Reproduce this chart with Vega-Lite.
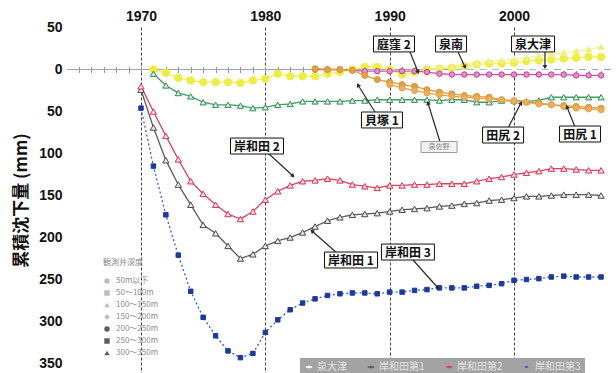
{
  "$schema": "https://vega.github.io/schema/vega-lite/v6.json",
  "width": 544,
  "height": 346,
  "autosize": {"type": "none"},
  "padding": {"left": 67, "top": 27, "right": 5, "bottom": 0},
  "background": "white",
  "config": {
    "view": {"fill": "#d5daee", "stroke": null},
    "font": "Liberation Sans"
  },
  "datasets": {
    "obs": [
      {"s": "泉大津", "yr": 1995, "v": -1}, {"s": "泉大津", "yr": 1996, "v": -1}, {"s": "泉大津", "yr": 1997, "v": -1},
      {"s": "泉大津", "yr": 1998, "v": -1}, {"s": "泉大津", "yr": 1999, "v": -1}, {"s": "泉大津", "yr": 2000, "v": -1},
      {"s": "泉大津", "yr": 2001, "v": -1}, {"s": "泉大津", "yr": 2002, "v": -1}, {"s": "泉大津", "yr": 2003, "v": -1},
      {"s": "泉大津", "yr": 2004, "v": -2}, {"s": "泉大津", "yr": 2005, "v": -2}, {"s": "泉大津", "yr": 2006, "v": -2},
      {"s": "泉大津", "yr": 2007, "v": -2},

      {"s": "岸和田第1", "yr": 1970, "v": 24}, {"s": "岸和田第1", "yr": 1971, "v": 69}, {"s": "岸和田第1", "yr": 1972, "v": 108},
      {"s": "岸和田第1", "yr": 1973, "v": 137}, {"s": "岸和田第1", "yr": 1974, "v": 161}, {"s": "岸和田第1", "yr": 1975, "v": 185},
      {"s": "岸和田第1", "yr": 1976, "v": 195}, {"s": "岸和田第1", "yr": 1977, "v": 210}, {"s": "岸和田第1", "yr": 1978, "v": 225},
      {"s": "岸和田第1", "yr": 1979, "v": 220}, {"s": "岸和田第1", "yr": 1980, "v": 210}, {"s": "岸和田第1", "yr": 1981, "v": 204},
      {"s": "岸和田第1", "yr": 1982, "v": 200}, {"s": "岸和田第1", "yr": 1983, "v": 194}, {"s": "岸和田第1", "yr": 1984, "v": 187},
      {"s": "岸和田第1", "yr": 1985, "v": 180}, {"s": "岸和田第1", "yr": 1986, "v": 176}, {"s": "岸和田第1", "yr": 1987, "v": 173},
      {"s": "岸和田第1", "yr": 1988, "v": 172}, {"s": "岸和田第1", "yr": 1989, "v": 171}, {"s": "岸和田第1", "yr": 1990, "v": 169},
      {"s": "岸和田第1", "yr": 1991, "v": 167}, {"s": "岸和田第1", "yr": 1992, "v": 166}, {"s": "岸和田第1", "yr": 1993, "v": 165},
      {"s": "岸和田第1", "yr": 1994, "v": 163}, {"s": "岸和田第1", "yr": 1995, "v": 162}, {"s": "岸和田第1", "yr": 1996, "v": 160},
      {"s": "岸和田第1", "yr": 1997, "v": 159}, {"s": "岸和田第1", "yr": 1998, "v": 156}, {"s": "岸和田第1", "yr": 1999, "v": 155},
      {"s": "岸和田第1", "yr": 2000, "v": 153}, {"s": "岸和田第1", "yr": 2001, "v": 151}, {"s": "岸和田第1", "yr": 2002, "v": 151},
      {"s": "岸和田第1", "yr": 2003, "v": 150}, {"s": "岸和田第1", "yr": 2004, "v": 149}, {"s": "岸和田第1", "yr": 2005, "v": 149},
      {"s": "岸和田第1", "yr": 2006, "v": 149}, {"s": "岸和田第1", "yr": 2007, "v": 150},

      {"s": "岸和田第2", "yr": 1970, "v": 20}, {"s": "岸和田第2", "yr": 1971, "v": 50}, {"s": "岸和田第2", "yr": 1972, "v": 79},
      {"s": "岸和田第2", "yr": 1973, "v": 107}, {"s": "岸和田第2", "yr": 1974, "v": 133}, {"s": "岸和田第2", "yr": 1975, "v": 148},
      {"s": "岸和田第2", "yr": 1976, "v": 161}, {"s": "岸和田第2", "yr": 1977, "v": 172}, {"s": "岸和田第2", "yr": 1978, "v": 178},
      {"s": "岸和田第2", "yr": 1979, "v": 169}, {"s": "岸和田第2", "yr": 1980, "v": 155}, {"s": "岸和田第2", "yr": 1981, "v": 145},
      {"s": "岸和田第2", "yr": 1982, "v": 138}, {"s": "岸和田第2", "yr": 1983, "v": 133}, {"s": "岸和田第2", "yr": 1984, "v": 132},
      {"s": "岸和田第2", "yr": 1985, "v": 130}, {"s": "岸和田第2", "yr": 1986, "v": 132}, {"s": "岸和田第2", "yr": 1987, "v": 137},
      {"s": "岸和田第2", "yr": 1988, "v": 139}, {"s": "岸和田第2", "yr": 1989, "v": 141}, {"s": "岸和田第2", "yr": 1990, "v": 138},
      {"s": "岸和田第2", "yr": 1991, "v": 138}, {"s": "岸和田第2", "yr": 1992, "v": 137}, {"s": "岸和田第2", "yr": 1993, "v": 137},
      {"s": "岸和田第2", "yr": 1994, "v": 136}, {"s": "岸和田第2", "yr": 1995, "v": 136}, {"s": "岸和田第2", "yr": 1996, "v": 136},
      {"s": "岸和田第2", "yr": 1997, "v": 133}, {"s": "岸和田第2", "yr": 1998, "v": 130}, {"s": "岸和田第2", "yr": 1999, "v": 128},
      {"s": "岸和田第2", "yr": 2000, "v": 125}, {"s": "岸和田第2", "yr": 2001, "v": 123}, {"s": "岸和田第2", "yr": 2002, "v": 121},
      {"s": "岸和田第2", "yr": 2003, "v": 118}, {"s": "岸和田第2", "yr": 2004, "v": 118}, {"s": "岸和田第2", "yr": 2005, "v": 119},
      {"s": "岸和田第2", "yr": 2006, "v": 120}, {"s": "岸和田第2", "yr": 2007, "v": 120},

      {"s": "岸和田第3", "yr": 1970, "v": 46}, {"s": "岸和田第3", "yr": 1971, "v": 115}, {"s": "岸和田第3", "yr": 1972, "v": 173},
      {"s": "岸和田第3", "yr": 1973, "v": 221}, {"s": "岸和田第3", "yr": 1974, "v": 264}, {"s": "岸和田第3", "yr": 1975, "v": 295},
      {"s": "岸和田第3", "yr": 1976, "v": 317}, {"s": "岸和田第3", "yr": 1977, "v": 335}, {"s": "岸和田第3", "yr": 1978, "v": 343},
      {"s": "岸和田第3", "yr": 1979, "v": 338}, {"s": "岸和田第3", "yr": 1980, "v": 313}, {"s": "岸和田第3", "yr": 1981, "v": 298},
      {"s": "岸和田第3", "yr": 1982, "v": 286}, {"s": "岸和田第3", "yr": 1983, "v": 278}, {"s": "岸和田第3", "yr": 1984, "v": 273},
      {"s": "岸和田第3", "yr": 1985, "v": 269}, {"s": "岸和田第3", "yr": 1986, "v": 267}, {"s": "岸和田第3", "yr": 1987, "v": 266},
      {"s": "岸和田第3", "yr": 1988, "v": 266}, {"s": "岸和田第3", "yr": 1989, "v": 267}, {"s": "岸和田第3", "yr": 1990, "v": 265},
      {"s": "岸和田第3", "yr": 1991, "v": 265}, {"s": "岸和田第3", "yr": 1992, "v": 263}, {"s": "岸和田第3", "yr": 1993, "v": 262},
      {"s": "岸和田第3", "yr": 1994, "v": 260}, {"s": "岸和田第3", "yr": 1995, "v": 260}, {"s": "岸和田第3", "yr": 1996, "v": 260},
      {"s": "岸和田第3", "yr": 1997, "v": 258}, {"s": "岸和田第3", "yr": 1998, "v": 257}, {"s": "岸和田第3", "yr": 1999, "v": 255},
      {"s": "岸和田第3", "yr": 2000, "v": 251}, {"s": "岸和田第3", "yr": 2001, "v": 250}, {"s": "岸和田第3", "yr": 2002, "v": 249},
      {"s": "岸和田第3", "yr": 2003, "v": 247}, {"s": "岸和田第3", "yr": 2004, "v": 246}, {"s": "岸和田第3", "yr": 2005, "v": 247},
      {"s": "岸和田第3", "yr": 2006, "v": 247}, {"s": "岸和田第3", "yr": 2007, "v": 247},

      {"s": "泉南", "yr": 1971, "v": 0}, {"s": "泉南", "yr": 1972, "v": 4}, {"s": "泉南", "yr": 1973, "v": 10},
      {"s": "泉南", "yr": 1974, "v": 13}, {"s": "泉南", "yr": 1975, "v": 15}, {"s": "泉南", "yr": 1976, "v": 15},
      {"s": "泉南", "yr": 1977, "v": 15}, {"s": "泉南", "yr": 1978, "v": 16}, {"s": "泉南", "yr": 1979, "v": 13},
      {"s": "泉南", "yr": 1980, "v": 11}, {"s": "泉南", "yr": 1981, "v": 5}, {"s": "泉南", "yr": 1982, "v": 8},
      {"s": "泉南", "yr": 1983, "v": 8}, {"s": "泉南", "yr": 1984, "v": 8}, {"s": "泉南", "yr": 1985, "v": 5},
      {"s": "泉南", "yr": 1986, "v": 3}, {"s": "泉南", "yr": 1987, "v": 0}, {"s": "泉南", "yr": 1988, "v": -3},
      {"s": "泉南", "yr": 1989, "v": -3}, {"s": "泉南", "yr": 1990, "v": 0}, {"s": "泉南", "yr": 1991, "v": 6},
      {"s": "泉南", "yr": 1992, "v": 3}, {"s": "泉南", "yr": 1993, "v": 0}, {"s": "泉南", "yr": 1994, "v": -1},
      {"s": "泉南", "yr": 1995, "v": -2}, {"s": "泉南", "yr": 1996, "v": -4}, {"s": "泉南", "yr": 1997, "v": -6},
      {"s": "泉南", "yr": 1998, "v": -7}, {"s": "泉南", "yr": 1999, "v": -7}, {"s": "泉南", "yr": 2000, "v": -8},
      {"s": "泉南", "yr": 2001, "v": -10}, {"s": "泉南", "yr": 2002, "v": -11}, {"s": "泉南", "yr": 2003, "v": -12},
      {"s": "泉南", "yr": 2004, "v": -13}, {"s": "泉南", "yr": 2005, "v": -14}, {"s": "泉南", "yr": 2006, "v": -15},
      {"s": "泉南", "yr": 2007, "v": -15},

      {"s": "泉南2", "yr": 1994, "v": -2}, {"s": "泉南2", "yr": 1995, "v": -4}, {"s": "泉南2", "yr": 1996, "v": -6},
      {"s": "泉南2", "yr": 1997, "v": -8}, {"s": "泉南2", "yr": 1998, "v": -10}, {"s": "泉南2", "yr": 1999, "v": -11},
      {"s": "泉南2", "yr": 2000, "v": -12}, {"s": "泉南2", "yr": 2001, "v": -14}, {"s": "泉南2", "yr": 2002, "v": -16},
      {"s": "泉南2", "yr": 2003, "v": -18}, {"s": "泉南2", "yr": 2004, "v": -20}, {"s": "泉南2", "yr": 2005, "v": -22},
      {"s": "泉南2", "yr": 2006, "v": -24}, {"s": "泉南2", "yr": 2007, "v": -27},

      {"s": "泉佐野", "yr": 1971, "v": 5}, {"s": "泉佐野", "yr": 1972, "v": 19}, {"s": "泉佐野", "yr": 1973, "v": 28},
      {"s": "泉佐野", "yr": 1974, "v": 32}, {"s": "泉佐野", "yr": 1975, "v": 39}, {"s": "泉佐野", "yr": 1976, "v": 42},
      {"s": "泉佐野", "yr": 1977, "v": 42}, {"s": "泉佐野", "yr": 1978, "v": 43}, {"s": "泉佐野", "yr": 1979, "v": 46},
      {"s": "泉佐野", "yr": 1980, "v": 45}, {"s": "泉佐野", "yr": 1981, "v": 42}, {"s": "泉佐野", "yr": 1982, "v": 41},
      {"s": "泉佐野", "yr": 1983, "v": 38}, {"s": "泉佐野", "yr": 1984, "v": 38}, {"s": "泉佐野", "yr": 1985, "v": 38},
      {"s": "泉佐野", "yr": 1986, "v": 38}, {"s": "泉佐野", "yr": 1987, "v": 37}, {"s": "泉佐野", "yr": 1988, "v": 37},
      {"s": "泉佐野", "yr": 1989, "v": 36}, {"s": "泉佐野", "yr": 1990, "v": 36}, {"s": "泉佐野", "yr": 1991, "v": 36},
      {"s": "泉佐野", "yr": 1992, "v": 36}, {"s": "泉佐野", "yr": 1993, "v": 36}, {"s": "泉佐野", "yr": 1994, "v": 37},
      {"s": "泉佐野", "yr": 1995, "v": 36}, {"s": "泉佐野", "yr": 1996, "v": 36}, {"s": "泉佐野", "yr": 1997, "v": 39},
      {"s": "泉佐野", "yr": 1998, "v": 39}, {"s": "泉佐野", "yr": 1999, "v": 37}, {"s": "泉佐野", "yr": 2000, "v": 37},
      {"s": "泉佐野", "yr": 2001, "v": 38}, {"s": "泉佐野", "yr": 2002, "v": 37}, {"s": "泉佐野", "yr": 2003, "v": 33},
      {"s": "泉佐野", "yr": 2004, "v": 33}, {"s": "泉佐野", "yr": 2005, "v": 33}, {"s": "泉佐野", "yr": 2006, "v": 33},
      {"s": "泉佐野", "yr": 2007, "v": 33},

      {"s": "庭窪2", "yr": 1984, "v": 0}, {"s": "庭窪2", "yr": 1985, "v": 0}, {"s": "庭窪2", "yr": 1986, "v": 0},
      {"s": "庭窪2", "yr": 1987, "v": 1}, {"s": "庭窪2", "yr": 1988, "v": 2}, {"s": "庭窪2", "yr": 1989, "v": 2},
      {"s": "庭窪2", "yr": 1990, "v": 2}, {"s": "庭窪2", "yr": 1991, "v": 2}, {"s": "庭窪2", "yr": 1992, "v": 2},
      {"s": "庭窪2", "yr": 1993, "v": 3}, {"s": "庭窪2", "yr": 1994, "v": 5}, {"s": "庭窪2", "yr": 1995, "v": 6},
      {"s": "庭窪2", "yr": 1996, "v": 6}, {"s": "庭窪2", "yr": 1997, "v": 6}, {"s": "庭窪2", "yr": 1998, "v": 6},
      {"s": "庭窪2", "yr": 1999, "v": 6}, {"s": "庭窪2", "yr": 2000, "v": 6}, {"s": "庭窪2", "yr": 2001, "v": 6},
      {"s": "庭窪2", "yr": 2002, "v": 6}, {"s": "庭窪2", "yr": 2003, "v": 6}, {"s": "庭窪2", "yr": 2004, "v": 6},
      {"s": "庭窪2", "yr": 2005, "v": 7}, {"s": "庭窪2", "yr": 2006, "v": 7}, {"s": "庭窪2", "yr": 2007, "v": 7},

      {"s": "田尻2", "yr": 1984, "v": -1}, {"s": "田尻2", "yr": 1985, "v": 0}, {"s": "田尻2", "yr": 1986, "v": 0},
      {"s": "田尻2", "yr": 1987, "v": 1}, {"s": "田尻2", "yr": 1988, "v": 7}, {"s": "田尻2", "yr": 1989, "v": 12},
      {"s": "田尻2", "yr": 1990, "v": 15}, {"s": "田尻2", "yr": 1991, "v": 18}, {"s": "田尻2", "yr": 1992, "v": 20},
      {"s": "田尻2", "yr": 1993, "v": 24}, {"s": "田尻2", "yr": 1994, "v": 27}, {"s": "田尻2", "yr": 1995, "v": 29},
      {"s": "田尻2", "yr": 1996, "v": 31}, {"s": "田尻2", "yr": 1997, "v": 32}, {"s": "田尻2", "yr": 1998, "v": 33},
      {"s": "田尻2", "yr": 1999, "v": 36}, {"s": "田尻2", "yr": 2000, "v": 38}, {"s": "田尻2", "yr": 2001, "v": 39},
      {"s": "田尻2", "yr": 2002, "v": 40}, {"s": "田尻2", "yr": 2003, "v": 42}, {"s": "田尻2", "yr": 2004, "v": 43},
      {"s": "田尻2", "yr": 2005, "v": 44}, {"s": "田尻2", "yr": 2006, "v": 45}, {"s": "田尻2", "yr": 2007, "v": 46},

      {"s": "田尻1", "yr": 1990, "v": 18}, {"s": "田尻1", "yr": 1991, "v": 22}, {"s": "田尻1", "yr": 1992, "v": 25},
      {"s": "田尻1", "yr": 1993, "v": 28}, {"s": "田尻1", "yr": 1994, "v": 30}, {"s": "田尻1", "yr": 1995, "v": 32},
      {"s": "田尻1", "yr": 1996, "v": 33}, {"s": "田尻1", "yr": 1997, "v": 34}, {"s": "田尻1", "yr": 1998, "v": 35},
      {"s": "田尻1", "yr": 1999, "v": 36}, {"s": "田尻1", "yr": 2000, "v": 37}, {"s": "田尻1", "yr": 2001, "v": 39},
      {"s": "田尻1", "yr": 2002, "v": 41}, {"s": "田尻1", "yr": 2003, "v": 42}, {"s": "田尻1", "yr": 2004, "v": 44},
      {"s": "田尻1", "yr": 2005, "v": 46}, {"s": "田尻1", "yr": 2006, "v": 47}, {"s": "田尻1", "yr": 2007, "v": 48}
    ],
    "notes": [
      {"label": "庭窪 2", "kind": "main", "tx": 1990.35, "ty": -30.4, "ax": 1991.64, "ay": -20.8, "hx": 1992.28, "hy": 3.0},
      {"label": "泉南", "kind": "main", "tx": 1994.93, "ty": -30.4, "ax": 1995.5, "ay": -20.8, "hx": 1996.06, "hy": -3},
      {"label": "泉大津", "kind": "main", "tx": 2001.53, "ty": -30.4, "ax": 2002.49, "ay": -20.8, "hx": 2002.49, "hy": -3},
      {"label": "貝塚 1", "kind": "main", "tx": 1989.38, "ty": 60.1, "ax": 1988.82, "ay": 50.6, "hx": 1987.45, "hy": 18.5},
      {"label": "泉佐野", "kind": "small", "tx": 1993.97, "ty": 92.3, "ax": 1994.05, "ay": 86.3, "hx": 1993.08, "hy": 39.9},
      {"label": "田尻 2", "kind": "main", "tx": 1999.12, "ty": 78.0, "ax": 1999.52, "ay": 69.6, "hx": 2000.56, "hy": 39.9},
      {"label": "田尻 1", "kind": "main", "tx": 2005.31, "ty": 76.8, "ax": 2004.91, "ay": 68.5, "hx": 2004.26, "hy": 44.6},
      {"label": "岸和田 2", "kind": "main", "tx": 1979.33, "ty": 91.1, "ax": 1980.21, "ay": 99.4, "hx": 1982.23, "hy": 126.8},
      {"label": "岸和田 1", "kind": "main", "tx": 1986.89, "ty": 226.8, "ax": 1985.76, "ay": 218.5, "hx": 1983.75, "hy": 192.3},
      {"label": "岸和田 3", "kind": "main", "tx": 1991.47, "ty": 217.3, "ax": 1991.88, "ay": 226.8, "hx": 1993.89, "hy": 260.1}
    ],
    "depth": [
      {"d": "50m以下"}, {"d": "50〜100m"}, {"d": "100〜150m"}, {"d": "150〜200m"},
      {"d": "200〜250m"}, {"d": "250〜300m"}, {"d": "300〜350m"}
    ]
  },
  "resolve": {
    "axis": {"x": "independent"},
    "scale": {"shape": "independent", "fill": "independent"}
  },
  "layer": [
    {
      "data": {"values": [{}]},
      "mark": {"type": "rule", "color": "#9da2ba", "strokeWidth": 1},
      "encoding": {
        "y": {
          "datum": 0, "type": "quantitative",
          "scale": {"domain": [-50.6, 361.3], "reverse": true, "nice": false, "zero": false},
          "axis": {
            "values": [-50, 0, 50, 100, 150, 200, 250, 300, 350],
            "labelExpr": "format(abs(datum.value), 'd')",
            "domain": false, "ticks": false, "grid": false,
            "labelFontSize": 14, "labelFontWeight": "bold", "labelColor": "#111",
            "labelPadding": 5, "labelFlush": false, "labelBound": false,
            "title": "累積沈下量 (mm)", "titleFont": "Noto Sans CJK JP",
            "titleFontSize": 17, "titleFontWeight": "bold", "titleColor": "#111",
            "titlePadding": 8
          }
        }
      }
    },
    {
      "data": {"name": "obs"},
      "mark": {"type": "line", "strokeWidth": 1.3},
      "encoding": {
        "x": {
          "field": "yr", "type": "quantitative",
          "scale": {"domain": [1964.05, 2007.8], "nice": false, "zero": false},
          "axis": {
            "orient": "top", "values": [1970, 1980, 1990, 2000], "format": "d", "title": null,
            "domain": false, "ticks": false, "grid": true, "gridColor": "#111",
            "gridDash": [3, 2], "gridWidth": 0.8, "labelFontSize": 14, "labelFontWeight": "bold",
            "labelColor": "#111", "labelPadding": 4, "labelFlush": false
          }
        },
        "y": {"field": "v", "type": "quantitative", "title": "累積沈下量 (mm)"},
        "color": {
          "field": "s", "type": "nominal",
          "scale": {
            "domain": ["泉大津", "岸和田第1", "岸和田第2", "岸和田第3", "泉南", "泉南2", "泉佐野", "庭窪2", "田尻1", "田尻2"],
            "range": ["#ffffff", "#5a5a5a", "#e0405a", "#3a5ccc", "#f2f25a", "#f4f49a", "#3e9e60", "#d050a8", "#e8a040", "#e39a3a"]
          },
          "legend": {
            "values": ["泉大津", "岸和田第1", "岸和田第2", "岸和田第3"],
            "title": null, "orient": "none", "legendX": 233, "legendY": 331,
            "direction": "horizontal", "columns": 4, "fillColor": "#a3a3a3",
            "padding": 4, "columnPadding": 18, "labelFont": "Noto Sans CJK JP",
            "labelFontSize": 10, "labelColor": "#e4e4e4", "labelOffset": 3,
            "symbolType": "M-1,0H1M-0.18,0.16L0,-0.18L0.18,0.16Z",
            "symbolSize": 1000, "symbolStrokeWidth": 1.4
          }
        },
        "strokeDash": {
          "field": "s", "type": "nominal",
          "scale": {
            "domain": ["泉大津", "岸和田第1", "岸和田第2", "岸和田第3", "泉南", "泉南2", "泉佐野", "庭窪2", "田尻1", "田尻2"],
            "range": [[1, 0], [1, 0], [1, 0], [2, 2.5], [1, 0], [1, 0], [1, 0], [1, 0], [1, 0], [1, 0]]
          },
          "legend": null
        },
        "order": {"field": "yr", "type": "quantitative"}
      }
    },
    {
      "data": {"name": "obs"},
      "mark": {"type": "point", "filled": false, "strokeWidth": 1, "opacity": 1},
      "encoding": {
        "x": {
          "field": "yr", "type": "quantitative",
          "axis": {
            "orient": "bottom", "offset": -306.5,
            "values": [1965, 1966, 1967, 1968, 1969, 1970, 1971, 1972, 1973, 1974, 1975, 1976, 1977, 1978, 1979, 1980, 1981, 1982, 1983, 1984, 1985, 1986, 1987, 1988, 1989, 1990, 1991, 1992, 1993, 1994, 1995, 1996, 1997, 1998, 1999, 2000, 2001, 2002, 2003, 2004, 2005, 2006, 2007],
            "labels": false, "domain": false, "ticks": true, "tickSize": 6,
            "tickColor": "#8d92ad", "tickWidth": 1, "grid": false, "title": null
          }
        },
        "y": {"field": "v", "type": "quantitative", "title": "累積沈下量 (mm)"},
        "shape": {
          "field": "s", "type": "nominal",
          "scale": {
            "domain": ["泉大津", "岸和田第1", "岸和田第2", "岸和田第3", "泉南", "泉南2", "泉佐野", "庭窪2", "田尻1", "田尻2"],
            "range": ["triangle-up", "triangle-up", "triangle-up", "square", "circle", "triangle-up", "triangle-up", "circle", "circle", "circle"]
          },
          "legend": null
        },
        "stroke": {
          "field": "s", "type": "nominal",
          "scale": {
            "domain": ["泉大津", "岸和田第1", "岸和田第2", "岸和田第3", "泉南", "泉南2", "泉佐野", "庭窪2", "田尻1", "田尻2"],
            "range": ["#ffffff", "#4a4a4a", "#e03050", "#1a3aa0", "#eeee40", "#f0f080", "#2e8e50", "#c83c98", "#e8a040", "#dc9434"]
          },
          "legend": null
        },
        "fill": {
          "field": "s", "type": "nominal",
          "scale": {
            "domain": ["泉大津", "岸和田第1", "岸和田第2", "岸和田第3", "泉南", "泉南2", "泉佐野", "庭窪2", "田尻1", "田尻2"],
            "range": ["#ffffff", "#e4e6f2", "#f3dde6", "#1a3aa0", "#eeee40", "#f0f080", "#dcebe4", "#e090c8", "#eab060", "#e0a048"]
          },
          "legend": null
        },
        "size": {
          "field": "s", "type": "nominal",
          "scale": {
            "type": "ordinal",
            "domain": ["泉大津", "岸和田第1", "岸和田第2", "岸和田第3", "泉南", "泉南2", "泉佐野", "庭窪2", "田尻1", "田尻2"],
            "range": [40, 40, 40, 20, 55, 36, 38, 30, 36, 36]
          },
          "legend": null
        }
      }
    },
    {
      "data": {"name": "notes"},
      "mark": {"type": "rule", "color": "#2a2a2a", "strokeWidth": 1.2},
      "encoding": {
        "x": {"field": "ax", "type": "quantitative", "axis": null},
        "x2": {"field": "hx"},
        "y": {"field": "ay", "type": "quantitative", "title": "累積沈下量 (mm)"},
        "y2": {"field": "hy"}
      }
    },
    {
      "data": {"name": "notes"},
      "transform": [
        {"calculate": "atan2((datum.hx - datum.ax) * 12.433, -(datum.hy - datum.ay) * 0.84) * 180 / PI", "as": "ang"}
      ],
      "mark": {"type": "point", "shape": "triangle-up", "filled": true, "color": "#2a2a2a", "size": 22, "opacity": 1},
      "encoding": {
        "x": {"field": "hx", "type": "quantitative", "axis": null},
        "y": {"field": "hy", "type": "quantitative", "title": "累積沈下量 (mm)"},
        "angle": {"field": "ang", "type": "quantitative", "scale": null}
      }
    },
    {
      "data": {"name": "notes"},
      "transform": [
        {"filter": "datum.kind === 'main'"},
        {"calculate": "(12 * length(split(datum.label, ' ')[0]) + (indexof(datum.label, ' ') >= 0 ? 10 : 0) + 7) / 24.866", "as": "hw"},
        {"calculate": "datum.tx - datum.hw", "as": "bx1"},
        {"calculate": "datum.tx + datum.hw", "as": "bx2"},
        {"calculate": "datum.ty - 9.5", "as": "by1"},
        {"calculate": "datum.ty + 9.5", "as": "by2"}
      ],
      "mark": {"type": "rect", "fill": "#ffffff", "stroke": "#111", "strokeWidth": 1},
      "encoding": {
        "x": {"field": "bx1", "type": "quantitative", "axis": null},
        "x2": {"field": "bx2"},
        "y": {"field": "by1", "type": "quantitative", "title": "累積沈下量 (mm)"},
        "y2": {"field": "by2"}
      }
    },
    {
      "data": {"name": "notes"},
      "transform": [
        {"filter": "datum.kind === 'small'"},
        {"calculate": "datum.tx - 1.45", "as": "bx1"},
        {"calculate": "datum.tx + 1.45", "as": "bx2"},
        {"calculate": "datum.ty - 6.5", "as": "by1"},
        {"calculate": "datum.ty + 6.5", "as": "by2"}
      ],
      "mark": {"type": "rect", "fill": "#f2f2f2", "stroke": "#9a9a9a", "strokeWidth": 1},
      "encoding": {
        "x": {"field": "bx1", "type": "quantitative", "axis": null},
        "x2": {"field": "bx2"},
        "y": {"field": "by1", "type": "quantitative", "title": "累積沈下量 (mm)"},
        "y2": {"field": "by2"}
      }
    },
    {
      "data": {"name": "notes"},
      "transform": [{"filter": "datum.kind === 'main'"}],
      "mark": {"type": "text", "font": "Noto Sans CJK JP", "fontSize": 12, "fontWeight": "bold", "color": "#111", "align": "center", "baseline": "middle", "dy": 1},
      "encoding": {
        "x": {"field": "tx", "type": "quantitative", "axis": null},
        "y": {"field": "ty", "type": "quantitative", "title": "累積沈下量 (mm)"},
        "text": {"field": "label"}
      }
    },
    {
      "data": {"name": "notes"},
      "transform": [{"filter": "datum.kind === 'small'"}],
      "mark": {"type": "text", "font": "Noto Sans CJK JP", "fontSize": 7, "color": "#8a8a8a", "align": "center", "baseline": "middle"},
      "encoding": {
        "x": {"field": "tx", "type": "quantitative", "axis": null},
        "y": {"field": "ty", "type": "quantitative", "title": "累積沈下量 (mm)"},
        "text": {"field": "label"}
      }
    },
    {
      "data": {"name": "depth"},
      "mark": {"type": "point", "opacity": 0, "filled": false, "stroke": "#8c8c8c", "strokeWidth": 1},
      "encoding": {
        "shape": {
          "field": "d", "type": "nominal",
          "scale": {
            "domain": ["50m以下", "50〜100m", "100〜150m", "150〜200m", "200〜250m", "250〜300m", "300〜350m"],
            "range": ["circle", "square", "triangle-up", "diamond", "circle", "square", "triangle-up"]
          },
          "legend": {
            "title": "観測井深度", "orient": "none", "legendX": 36, "legendY": 232,
            "titleFont": "Noto Sans CJK JP", "titleFontSize": 8, "titleFontWeight": "normal",
            "titleColor": "#8c8c8c", "titlePadding": 10, "labelFont": "Noto Sans CJK JP",
            "labelFontSize": 8, "labelColor": "#8c8c8c", "symbolSize": 30,
            "symbolStrokeColor": "#8c8c8c", "symbolStrokeWidth": 1, "symbolOpacity": 1,
            "rowPadding": 2, "labelOffset": 5, "padding": 0
          }
        },
        "fill": {
          "field": "d", "type": "nominal",
          "scale": {
            "domain": ["50m以下", "50〜100m", "100〜150m", "150〜200m", "200〜250m", "250〜300m", "300〜350m"],
            "range": ["#b9bccc", "#b9bccc", "#b9bccc", "#b9bccc", "#5e5e5e", "#5e5e5e", "#5e5e5e"]
          },
          "legend": {
            "title": "観測井深度", "orient": "none", "legendX": 36, "legendY": 232,
            "titleFont": "Noto Sans CJK JP", "titleFontSize": 8, "titleFontWeight": "normal",
            "titleColor": "#8c8c8c", "titlePadding": 10, "labelFont": "Noto Sans CJK JP",
            "labelFontSize": 8, "labelColor": "#8c8c8c", "symbolSize": 30,
            "symbolStrokeColor": "#8c8c8c", "symbolStrokeWidth": 1, "symbolOpacity": 1,
            "rowPadding": 2, "labelOffset": 5, "padding": 0
          }
        }
      }
    }
  ]
}
